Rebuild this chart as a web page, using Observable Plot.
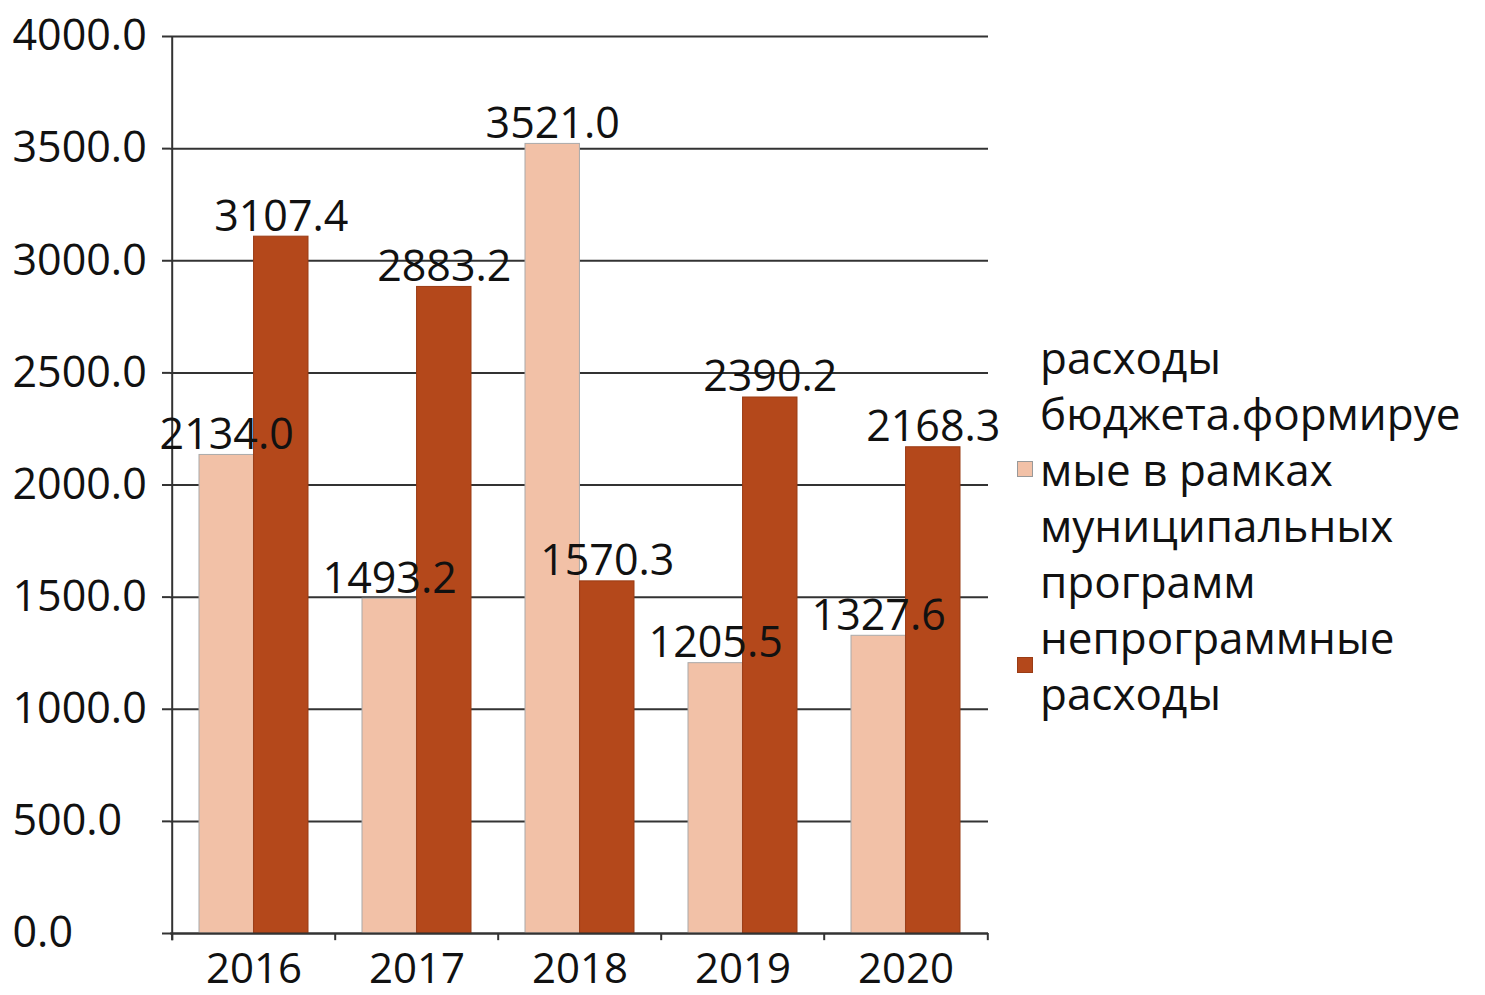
<!DOCTYPE html>
<html><head><meta charset="utf-8">
<script src="https://cdn.jsdelivr.net/npm/d3@7"></script>
<script src="https://cdn.jsdelivr.net/npm/@observablehq/plot@0.6"></script>
<style>
body{margin:0;background:#fff;font-family:"Open Sans",sans-serif;}
#wrap{position:relative;width:1485px;height:995px;}
#legend{position:absolute;left:1017px;top:329px;font-size:44px;color:#111;}
.item{display:flex;align-items:center;}
.sw{width:14px;height:14px;margin-right:7px;border:1px solid #999;flex:none;}
.txt{line-height:56px;white-space:nowrap;}
</style></head>
<body><div id="wrap"><div id="chart"></div><div id="legend"></div></div>
<script>
const years = ["2016","2017","2018","2019","2020"];
const programValues = [2134.0, 1493.2, 3521.0, 1205.5, 1327.6];
const nonProgramValues = [3107.4, 2883.2, 1570.3, 2390.2, 2168.3];
const seriesNames = ["расходы бюджета.формируемые в рамках муниципальных программ", "непрограммные расходы"];
const legendLines = [["расходы","бюджета.формируе","мые в рамках","муниципальных","программ"],["непрограммные","расходы"]];
const colors = ["#F2C1A7","#B4481B"];
const yTicks = [0,500,1000,1500,2000,2500,3000,3500,4000];

const prog = years.map((y,i)=>({year:y, value:programValues[i]}));
const nonp = years.map((y,i)=>({year:y, value:nonProgramValues[i]}));
const step = 818/5, bw = step*0.667, half = bw/2;
const font = "Open Sans, sans-serif";

const chart = Plot.plot({
  width: 1000, height: 995,
  marginLeft: 170, marginRight: 12, marginTop: 36, marginBottom: 62,
  style: {fontFamily: font, fontSize: "43px", color: "#111", background: "transparent"},
  x: {domain: years, paddingInner: 0.333, paddingOuter: 0.1665, label: null},
  y: {domain: [0,4000], label: null},
  marks: [
    Plot.gridY(yTicks, {stroke: "#333", strokeOpacity: 1, strokeWidth: 2}),
    Plot.barY(prog, {x: "year", y: "value", fill: colors[0], stroke: "#aaa", strokeWidth: 1, insetRight: half}),
    Plot.barY(nonp, {x: "year", y: "value", fill: colors[1], stroke: "#9a3c15", strokeWidth: 1, insetLeft: half}),
    Plot.ruleY([0], {stroke: "#333", strokeWidth: 2}),
    Plot.ruleX(years, {x: d=>d, y1: 0, y2: -32, dx: -step/2, stroke: "#333", strokeWidth: 2}),
    Plot.ruleX([years[years.length-1]], {x: d=>d, y1: 0, y2: -32, dx: step/2, stroke: "#333", strokeWidth: 2}),
    Plot.ruleX([years[0]], {x: d=>d, y1: -32, y2: 4000, dx: -step/2, stroke: "#333", strokeWidth: 2}),
    Plot.axisY({ticks: yTicks, tickFormat: () => "", tickSize: 8, stroke: "#333", strokeWidth: 2}),
    Plot.axisY({ticks: yTicks, tickFormat: d3.format(".1f"), tickSize: 0, tickPadding: 0, fontSize: 43, textAnchor: "start", dx: -158}),
    Plot.axisX({tickSize: 0, tickPadding: 20, fontSize: 42}),
    Plot.text(prog, {x: "year", y: "value", text: d=>d.value.toFixed(1), dx: -half/2, dy: -6, lineAnchor: "bottom", fontSize: 43, fill: "#111"}),
    Plot.text(nonp, {x: "year", y: "value", text: d=>d.value.toFixed(1), dx: half/2, dy: -6, lineAnchor: "bottom", fontSize: 43, fill: "#111"})
  ]
});
document.getElementById("chart").appendChild(chart);

const lg = document.getElementById("legend");
legendLines.forEach((lines,i)=>{
  const it = document.createElement("div"); it.className="item";
  const sw = document.createElement("div"); sw.className="sw"; sw.style.background=colors[i];
  if(i===1) sw.style.borderColor="#9a3c15";
  const tx = document.createElement("div"); tx.className="txt"; tx.innerHTML = lines.join("<br>");
  tx.title = seriesNames[i];
  it.appendChild(sw); it.appendChild(tx); lg.appendChild(it);
});
</script></body></html>
